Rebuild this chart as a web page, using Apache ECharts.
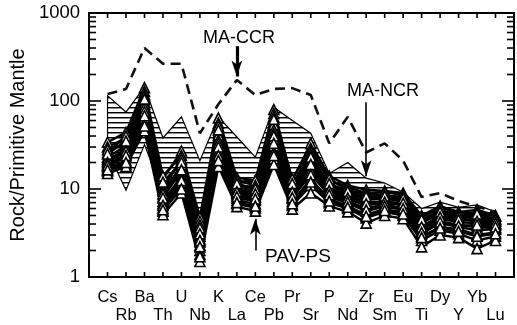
<!DOCTYPE html>
<html>
<head>
<meta charset="utf-8">
<script src="https://cdn.jsdelivr.net/npm/echarts@6/dist/echarts.min.js"></script>
<style>
  html, body { margin: 0; padding: 0; background: #fff; }
  #chart { width: 517px; height: 325px; }
</style>
</head>
<body>
<div id="chart"></div>
<script>
var elements = ['Cs', 'Rb', 'Ba', 'Th', 'U', 'Nb', 'K', 'La', 'Ce', 'Pb', 'Pr', 'Sr', 'P', 'Nd', 'Zr', 'Sm', 'Eu', 'Ti', 'Dy', 'Y', 'Yb', 'Lu'];
var yMajorTicks = [1, 10, 100, 1000];
var yMinorTicks = [2, 3, 4, 5, 6, 7, 8, 9, 20, 30, 40, 50, 60, 70, 80, 90, 200, 300, 400, 500, 600, 700, 800, 900];

// MA-CCR (dashed line)
var maCcr = [120, 137, 400, 265, 265, 43, 92, 173, 117, 137, 140, 117, 33, 66, 26, 33, 21, 8.1, 9.0, 7.3, 6.3, 5.5];

// MA-NCR field (hatched), upper and lower bounds
var ncrHigh = [115, 75, 145, 38, 66, 21, 66, 39, 23, 85, 60, 43, 15, 20, 13.3, 11.7, 9.2, 6, 7.1, 6.2, 6.6, 5.5];
var ncrLow = [27, 9.7, 32, 9, 15, 4, 28, 11, 10, 30, 10, 18, 9, 8, 6.5, 7, 6.5, 4, 4.5, 4.2, 4, 3.6];

// PAV-PS samples
var pav01 = [34, 44, 142, 13, 27, 4.8, 64, 13.5, 12.5, 80, 12.5, 33, 14, 11, 9.8, 9.5, 9, 5, 6.4, 5.5, 5.8, 5];
var pav02 = [30, 38, 128, 14, 24, 4.3, 56, 12, 12.5, 72, 13, 29, 12.5, 10.5, 9, 9.2, 8.5, 4.7, 6.2, 5.3, 5.4, 4.9];
var pav03 = [26, 40, 118, 11, 21, 3.9, 52, 12.5, 11, 66, 11, 27, 13, 9.6, 8.8, 8.4, 8.2, 4.4, 5.7, 5.1, 5.1, 4.6];
var pav04 = [28, 33, 112, 10, 22, 3.3, 44, 11, 10.5, 58, 10.5, 25, 11, 9.2, 7.9, 8.1, 7.4, 4.1, 5.4, 4.7, 4.9, 4.3];
var pav05 = [23, 31, 98, 9.5, 18, 3.6, 41, 10.5, 9.5, 54, 9.8, 24, 10.5, 8.7, 7.6, 7.8, 7.2, 4.3, 5, 4.6, 4.4, 4.4];
var pav06 = [21, 29, 92, 8.2, 19, 2.9, 36, 9.6, 9.2, 47, 9.6, 21, 10, 8.3, 7.1, 7.2, 6.8, 3.8, 4.9, 4.4, 4.6, 4];
var pav07 = [22, 26, 84, 8.8, 15, 2.7, 33, 9, 8.4, 43, 8.8, 20, 9.4, 7.6, 6.6, 6.9, 6.6, 3.5, 4.6, 4.2, 4.1, 3.9];
var pav08 = [19, 25, 72, 7.2, 14, 2.5, 28, 8.6, 8.1, 37, 8.4, 17, 9, 7.2, 6.1, 6.6, 6.1, 3.3, 4.3, 3.9, 3.7, 3.6];
var pav09 = [18, 23, 64, 6.8, 13, 2.3, 26, 7.8, 7.4, 31, 7.8, 16, 8.2, 6.9, 5.6, 6.3, 5.8, 3.1, 4.1, 3.7, 3.4, 3.5];
var pav10 = [17, 21, 56, 6.1, 11.5, 2, 22, 7.4, 6.8, 26, 7.2, 13, 7.7, 6.4, 5.1, 5.9, 5.4, 2.9, 3.7, 3.5, 3, 3.2];
var pav11 = [16, 19, 50, 5.6, 10.5, 1.8, 20, 6.8, 6.1, 22, 6.5, 11, 7, 6, 4.7, 5.5, 5, 2.6, 3.4, 3.1, 2.6, 2.9];
var pav12 = [15, 18, 46, 5.1, 9, 1.5, 18, 6.3, 5.6, 19, 5.9, 9, 6.4, 5.5, 4.1, 5, 4.6, 2.2, 3, 2.8, 2.1, 2.6];
var pav13 = [25, 35, 105, 12, 20, 3.1, 47, 11.5, 10, 62, 11.5, 23, 11.5, 9.4, 8.2, 8.3, 7.8, 4.5, 5.5, 4.9, 5.2, 4.5];
var pav14 = [20, 27, 76, 7.9, 16.5, 2.6, 30, 9.3, 8.8, 40, 9.2, 19, 9.6, 7.9, 6.8, 7.1, 6.9, 3.7, 4.8, 4.5, 4.3, 4.1];
var pav15 = [18.5, 24, 68, 6.5, 12.5, 2.2, 24, 8.2, 7.7, 33, 8, 14.5, 8.6, 7.1, 5.8, 6.4, 6, 3.2, 4.2, 3.8, 3.9, 3.7];
var pav16 = [16.5, 20, 52, 5.8, 10, 1.7, 21, 7, 6.4, 24, 6.8, 12, 7.3, 6.2, 4.9, 5.7, 5.2, 2.8, 3.6, 3.3, 2.9, 3.1];
var pavSamples = [pav01, pav02, pav03, pav04, pav05, pav06, pav07, pav08, pav09, pav10, pav11, pav12, pav13, pav14, pav15, pav16];

var font = 'Liberation Sans, Arial, Helvetica, sans-serif';

// horizontal hatching for the MA-NCR field
var hatchCanvas = document.createElement('canvas');
hatchCanvas.width = 8;
hatchCanvas.height = 5;
var hctx = hatchCanvas.getContext('2d');
hctx.fillStyle = '#fff';
hctx.fillRect(0, 0, 8, 5);
hctx.fillStyle = '#000';
hctx.fillRect(0, 2, 8, 1);
hctx.fillStyle = 'rgba(0,0,0,0.45)';
hctx.fillRect(0, 3, 8, 1);
var hatch = { image: hatchCanvas, repeat: 'repeat' };

function toPairs (arr) {
  return arr.map(function (v, i) { return [i, v] })
}

function xAxisCfg (pos) {
  return {
    type: 'value',
    position: pos,
    min: -1,
    max: 22,
    interval: 1,
    axisLine: { show: true, onZero: false, lineStyle: { color: '#000', width: 2 } },
    axisTick: { show: false },
    axisLabel: {
      show: pos === 'bottom',
      color: '#000',
      fontFamily: font,
      fontSize: 16.5,
      lineHeight: 18,
      margin: 11,
      formatter: function (v) {
        if (v < 0 || v > 21) return ''
        return v % 2 ? '\n' + elements[v] : elements[v]
      }
    },
    splitLine: { show: false }
  }
}

function yAxisCfg (pos) {
  return {
    type: 'log',
    logBase: 10,
    position: pos,
    min: 1,
    max: 1000,
    axisLine: { show: true, onZero: false, lineStyle: { color: '#000', width: 2 } },
    axisTick: { show: false },
    axisLabel: {
      show: pos === 'left',
      customValues: yMajorTicks,
      color: '#000',
      fontFamily: font,
      fontSize: 18.5,
      margin: 9,
      formatter: function (v) { return String(v) }
    },
    minorTick: { show: false },
    splitLine: { show: false },
    name: pos === 'left' ? 'Rock/Primitive Mantle' : '',
    nameLocation: 'middle',
    nameGap: 46,
    nameTextStyle: { color: '#000', fontFamily: font, fontSize: 20 }
  }
}

// inward tick marks on all four sides, placed through the axes' own scales
function tickSeries () {
  return {
    type: 'custom',
    xAxisIndex: 0,
    yAxisIndex: 0,
    z: 5,
    silent: true,
    clip: false,
    data: [[0, 1]],
    renderItem: function (params, api) {
      var kids = []
      function seg (p, dx, dy) {
        kids.push({ type: 'line', shape: { x1: p[0], y1: p[1], x2: p[0] + dx, y2: p[1] + dy }, style: { stroke: '#000', lineWidth: 1.6 } })
      }
      elements.forEach(function (e, i) {
        seg(api.coord([i, 1]), 0, -5)
        seg(api.coord([i, 1000]), 0, 5)
      })
      yMajorTicks.forEach(function (v) {
        seg(api.coord([-1, v]), 12, 0)
        seg(api.coord([22, v]), -12, 0)
      })
      yMinorTicks.forEach(function (v) {
        seg(api.coord([-1, v]), 7, 0)
        seg(api.coord([22, v]), -7, 0)
      })
      return { type: 'group', children: kids }
    }
  }
}

var series = [
  {
    type: 'custom',
    xAxisIndex: 0,
    yAxisIndex: 0,
    z: 1,
    silent: true,
    data: [[0, ncrHigh[0]]],
    renderItem: function (params, api) {
      var pts = []
      for (var i = 0; i < ncrHigh.length; i++) pts.push(api.coord([i, ncrHigh[i]]))
      for (var j = ncrLow.length - 1; j >= 0; j--) pts.push(api.coord([j, ncrLow[j]]))
      return {
        type: 'polygon',
        shape: { points: pts },
        style: { fill: hatch, stroke: '#000', lineWidth: 1.2 }
      }
    }
  },
  {
    type: 'line',
    z: 2,
    data: toPairs(maCcr),
    symbol: 'none',
    lineStyle: { color: '#111', width: 2.6, type: [10, 6] },
    markLine: {
      silent: true,
      symbol: ['none', 'arrow'],
      label: { show: false },
      data: [
        [{ coord: [7, 420], symbolSize: [13, 14], lineStyle: { width: 3.2, type: 'solid', color: '#000' } }, { coord: [7, 190] }],
        [{ coord: [14, 97], symbolSize: [9, 13], lineStyle: { width: 1.6, type: 'solid', color: '#000' } }, { coord: [14, 14] }],
        [{ coord: [8, 2.0], symbolSize: [9, 13], lineStyle: { width: 1.6, type: 'solid', color: '#000' } }, { coord: [8, 4.6] }]
      ]
    }
  },
  tickSeries()
]

pavSamples.forEach(function (s) {
  series.push({
    type: 'line',
    z: 3,
    data: toPairs(s),
    symbol: 'triangle',
    symbolSize: 10,
    itemStyle: { color: '#fff', borderColor: '#000', borderWidth: 1.6 },
    lineStyle: { color: '#000', width: 2.4 }
  })
})

var chart = echarts.init(document.getElementById('chart'))
chart.setOption({
  animation: false,
  backgroundColor: '#fff',
  grid: { left: 85, right: 2, top: 13, bottom: 48 },
  xAxis: [xAxisCfg('bottom'), xAxisCfg('top')],
  yAxis: [yAxisCfg('left'), yAxisCfg('right')],
  graphic: [
    { type: 'text', left: 203, top: 29, style: { text: 'MA-CCR', fill: '#000', font: '18px ' + font } },
    { type: 'text', left: 347, top: 82, style: { text: 'MA-NCR', fill: '#000', font: '18px ' + font } },
    { type: 'text', left: 265, top: 247, style: { text: 'PAV-PS', fill: '#000', font: '19px ' + font } }
  ],
  series: series
})
</script>
</body>
</html>
